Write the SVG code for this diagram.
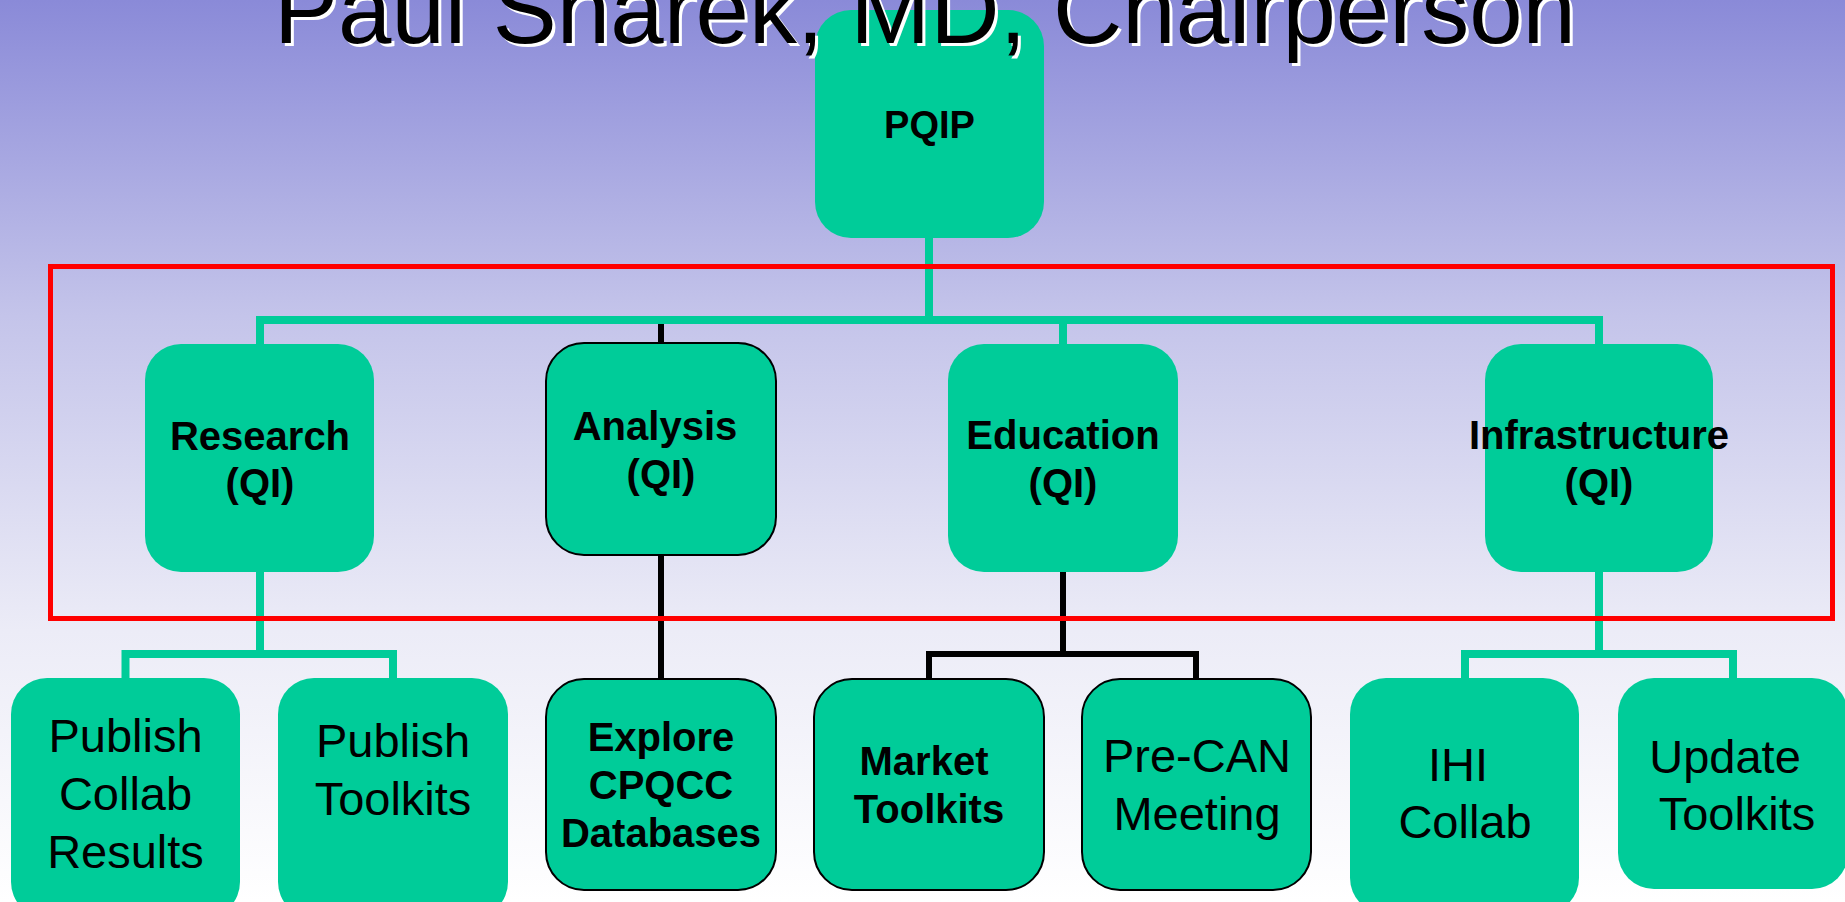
<svg xmlns="http://www.w3.org/2000/svg" width="1845" height="902" viewBox="0 0 1845 902">
  <defs>
    <linearGradient id="bg" x1="0" y1="0" x2="0" y2="1">
      <stop offset="0" stop-color="#8A8AD8"/>
      <stop offset="0.35" stop-color="#C4C4EA"/>
      <stop offset="0.7" stop-color="#ECECF7"/>
      <stop offset="1" stop-color="#FFFFFF"/>
    </linearGradient>
  </defs>
  <style>
    .box { fill: #00CC99; }
    .box.edged { stroke: #000000; stroke-width: 2; }
    .lbl { font-family: "Liberation Sans", Arial, sans-serif; fill: #000000; text-anchor: middle; }
    .b { font-weight: bold; font-size: 40px; }
    .r { font-size: 47px; }
    .g { fill: none; stroke: #00CC99; stroke-width: 8; stroke-linejoin: miter; }
    .k { fill: none; stroke: #000000; stroke-width: 6; stroke-linejoin: miter; }
    .title { font-family: "Liberation Sans", Arial, sans-serif; font-size: 96px; }
  </style>

  <!-- background -->
  <rect x="0" y="0" width="1845" height="902" fill="url(#bg)"/>

  <!-- connectors -->
  <g id="connectors">
    <path class="g" d="M929 238 V320"/>
    <path class="g" d="M260 345 V320 H1599 V345"/>
    <path class="g" d="M1063 320 V345"/>
    <path class="k" d="M661 324 V344"/>
    <path class="g" d="M260 572 V654"/>
    <path class="g" d="M125.5 679 V654 H393 V679"/>
    <path class="k" d="M661 555 V680"/>
    <path class="k" d="M1063 572 V654"/>
    <path class="k" d="M929 680 V654 H1196 V680"/>
    <path class="g" d="M1599 572 V654"/>
    <path class="g" d="M1465 679 V654 H1733 V679"/>
  </g>

  <!-- highlight frame around the QI tier -->
  <rect id="qi-frame" x="50.5" y="266.5" width="1782" height="352" fill="none" stroke="#FF0000" stroke-width="5"/>

  <!-- top node -->
  <g id="pqip">
    <rect class="box" x="815" y="10" width="229" height="228" rx="36"/>
    <text class="lbl b" x="929.5" y="138" style="font-size:38px">PQIP</text>
  </g>

  <!-- QI tier -->
  <g id="research">
    <rect class="box" x="145" y="344" width="229" height="228" rx="36"/>
    <text class="lbl b" x="260" y="450">Research</text>
    <text class="lbl b" x="260" y="497">(QI)</text>
  </g>
  <g id="analysis">
    <rect class="box edged" x="546" y="343" width="230" height="212" rx="38"/>
    <text class="lbl b" x="655" y="440">Analysis</text>
    <text class="lbl b" x="661" y="488">(QI)</text>
  </g>
  <g id="education">
    <rect class="box" x="948" y="344" width="230" height="228" rx="36"/>
    <text class="lbl b" x="1063" y="449">Education</text>
    <text class="lbl b" x="1063" y="497">(QI)</text>
  </g>
  <g id="infrastructure">
    <rect class="box" x="1485" y="344" width="228" height="228" rx="36"/>
    <text class="lbl b" x="1599" y="449">Infrastructure</text>
    <text class="lbl b" x="1599" y="497">(QI)</text>
  </g>

  <!-- task tier -->
  <g id="publish-collab">
    <rect class="box" x="11" y="678" width="229" height="240" rx="36"/>
    <text class="lbl r" x="125.5" y="752">Publish</text>
    <text class="lbl r" x="125.5" y="810">Collab</text>
    <text class="lbl r" x="125.5" y="868">Results</text>
  </g>
  <g id="publish-toolkits">
    <rect class="box" x="278" y="678" width="230" height="240" rx="36"/>
    <text class="lbl r" x="393" y="757">Publish</text>
    <text class="lbl r" x="393" y="815">Toolkits</text>
  </g>
  <g id="explore">
    <rect class="box edged" x="546" y="679" width="230" height="211" rx="38"/>
    <text class="lbl b" x="661" y="751">Explore</text>
    <text class="lbl b" x="661" y="799">CPQCC</text>
    <text class="lbl b" x="661" y="847">Databases</text>
  </g>
  <g id="market">
    <rect class="box edged" x="814" y="679" width="230" height="211" rx="38"/>
    <text class="lbl b" x="924" y="775">Market</text>
    <text class="lbl b" x="929" y="823">Toolkits</text>
  </g>
  <g id="precan">
    <rect class="box edged" x="1082" y="679" width="229" height="211" rx="38"/>
    <text class="lbl r" x="1197" y="772">Pre-CAN</text>
    <text class="lbl r" x="1197" y="830">Meeting</text>
  </g>
  <g id="ihi">
    <rect class="box" x="1350" y="678" width="229" height="236" rx="36"/>
    <text class="lbl r" x="1458" y="781">IHI</text>
    <text class="lbl r" x="1465" y="838">Collab</text>
  </g>
  <g id="update">
    <rect class="box" x="1618" y="678" width="230" height="211" rx="36"/>
    <text class="lbl r" x="1725" y="773">Update</text>
    <text class="lbl r" x="1737" y="830">Toolkits</text>
  </g>

  <!-- slide title with light drop shadow -->
  <g id="title">
    <text class="title" x="277" y="46" fill="#FFFFFF">Paul Sharek, MD, Chairperson</text>
    <text class="title" x="274" y="43" fill="#000000">Paul Sharek, MD, Chairperson</text>
  </g>
</svg>
